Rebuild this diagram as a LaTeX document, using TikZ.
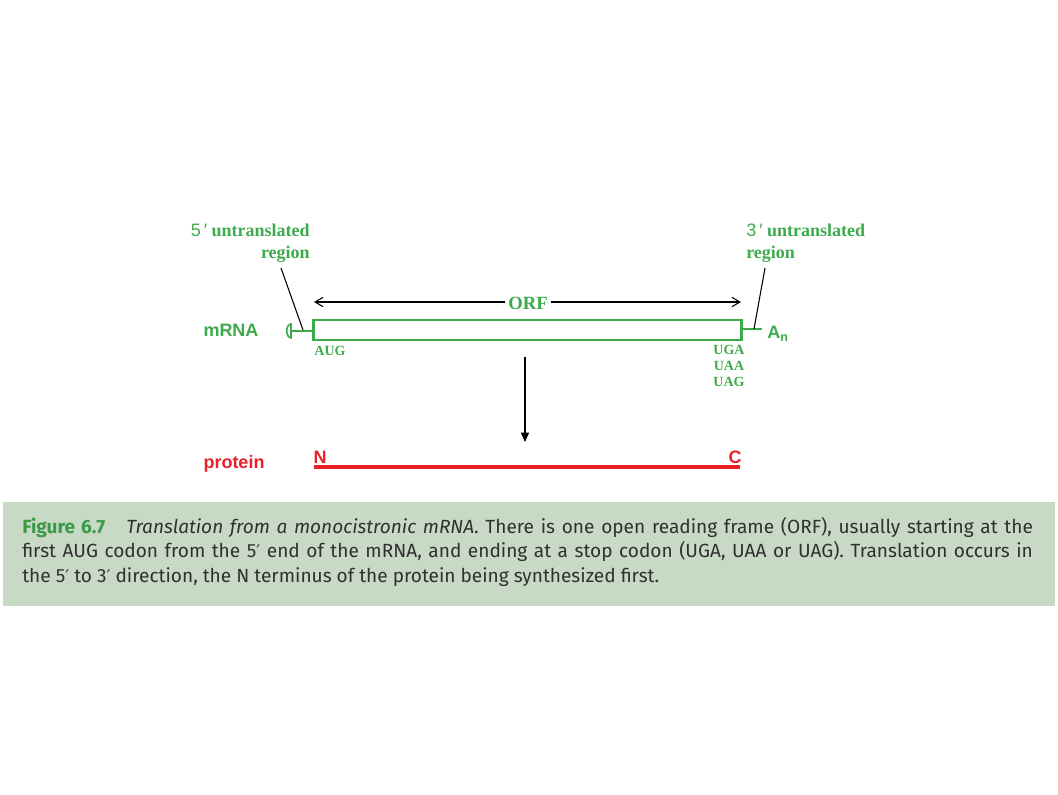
\documentclass[tikz,border=0pt]{standalone}
\usepackage{fontspec}
\setmainfont{Liberation Serif}
\setsansfont{Liberation Sans}
\newfontfamily\capfont{Fira Sans}
\newfontfamily\primefont{DejaVu Sans}
\newcommand{\prm}{{\primefont\fontsize{13}{12}\selectfont ′}}
\usetikzlibrary{arrows.meta}
\definecolor{mgreen}{HTML}{3DAA4B}
\definecolor{fgreen}{HTML}{3A9A48}
\definecolor{pred}{HTML}{E8202A}
\definecolor{capbg}{HTML}{C8DAC5}
\definecolor{captext}{HTML}{303030}
\tikzset{
  lbl/.style={font=\fontsize{13.5}{16.5}\selectfont\bfseries, text=mgreen, inner sep=0pt, align=#1},
  lbl/.default=center,
  sanslbl/.style={font=\fontsize{13.5}{16}\selectfont\sffamily\bfseries, inner sep=0pt},
  codon/.style={font=\fontsize{10.5}{12}\selectfont\bfseries, text=mgreen, inner sep=0pt},
  leader/.style={black, line width=0.8pt},
  mline/.style={mgreen, line width=1.6pt},
}
\begin{document}
\begin{tikzpicture}[x=0.75pt,y=-0.75pt]
\useasboundingbox (0,0) rectangle (1058,794);
% caption box
\fill[capbg] (3,502) rectangle (1055,606);
\node[anchor=base west, inner sep=0pt, text=captext, font=\capfont\fontsize{14.3}{18.4}\selectfont] (cap) at (22,533)
 {\parbox[t]{758pt}{\textcolor{fgreen}{\bfseries Figure 6.7}\hspace{1.1em}\textit{Translation from a monocistronic mRNA}. There is one open reading frame (ORF), usually starting at the\linebreak
 first AUG codon from the 5\prm{} end of the mRNA, and ending at a stop codon (UGA, UAA or UAG). Translation occurs in\linebreak
 the 5\prm{} to 3\prm{} direction, the N terminus of the protein being synthesized first.}};
% labels
\node[lbl=right, anchor=east] (utr5) at (310,243) {{\mdseries\sffamily 5\,′} untranslated\\region};
\node[lbl=left, anchor=west] (utr3) at (746,243) {{\mdseries\sffamily 3\,′} untranslated\\region};
\node[sanslbl, text=mgreen] (mrna) at (231,330) {mRNA};
\node[sanslbl, text=pred] (prot) at (234,464) {protein};
% mRNA box
\node[draw=mgreen, line width=1.6pt, minimum width=321pt, minimum height=15pt, inner sep=0pt] (box) at (527.5,330) {};
\coordinate (capend) at (291,331);
\coordinate (tail3) at (762,329);
\draw[mline] (capend) -- (box.west |- capend);
\draw[mline] (box.east |- tail3) -- (tail3);
\draw[mgreen, line width=1.2pt] (291,324) arc[start angle=90, end angle=270, x radius=3.2pt, y radius=5.2pt] -- cycle;
\node[sanslbl, text=mgreen, anchor=west] (an) at (767,334) {A\textsubscript{n}};
% leaders
\coordinate (l5a) at (281,268); \coordinate (l5b) at (303,330);
\coordinate (l3a) at (765,268); \coordinate (l3b) at (754,329);
\draw[leader] (l5a) -- (l5b);
\draw[leader] (l3a) -- (l3b);
% ORF arrow
\node[lbl, fill=white, inner xsep=2pt, font=\fontsize{14}{16}\selectfont\bfseries] (orf) at (528,303) {ORF};
\coordinate (orfl) at (314,302); \coordinate (orfr) at (741,302);
\draw[black, line width=0.8pt, -{Straight Barb[length=6pt,width=7pt]}] (orf.west |- orfl) -- (orfl);
\draw[black, line width=0.8pt, -{Straight Barb[length=6pt,width=7pt]}] (orf.east |- orfr) -- (orfr);
% codons
\node[codon] (aug) at (330,351) {AUG};
\node[codon] (uga) at (729,350) {UGA};
\node[codon] (uaa) at (729,366) {UAA};
\node[codon] (uag) at (729,382) {UAG};
% translation arrow
\coordinate (da) at (525,357); \coordinate (db) at (525,442);
\draw[black, line width=0.9pt, -{Triangle[length=7pt,width=6pt]}] (da) -- (db);
% protein
\coordinate (pl) at (314,467); \coordinate (pr) at (740,467);
\draw[pred, line width=2.4pt] (pl) -- (pr);
\node[sanslbl, text=pred] (nt) at (320,457) {N};
\node[sanslbl, text=pred] (ct) at (735,457) {C};
\end{tikzpicture}
\end{document}
